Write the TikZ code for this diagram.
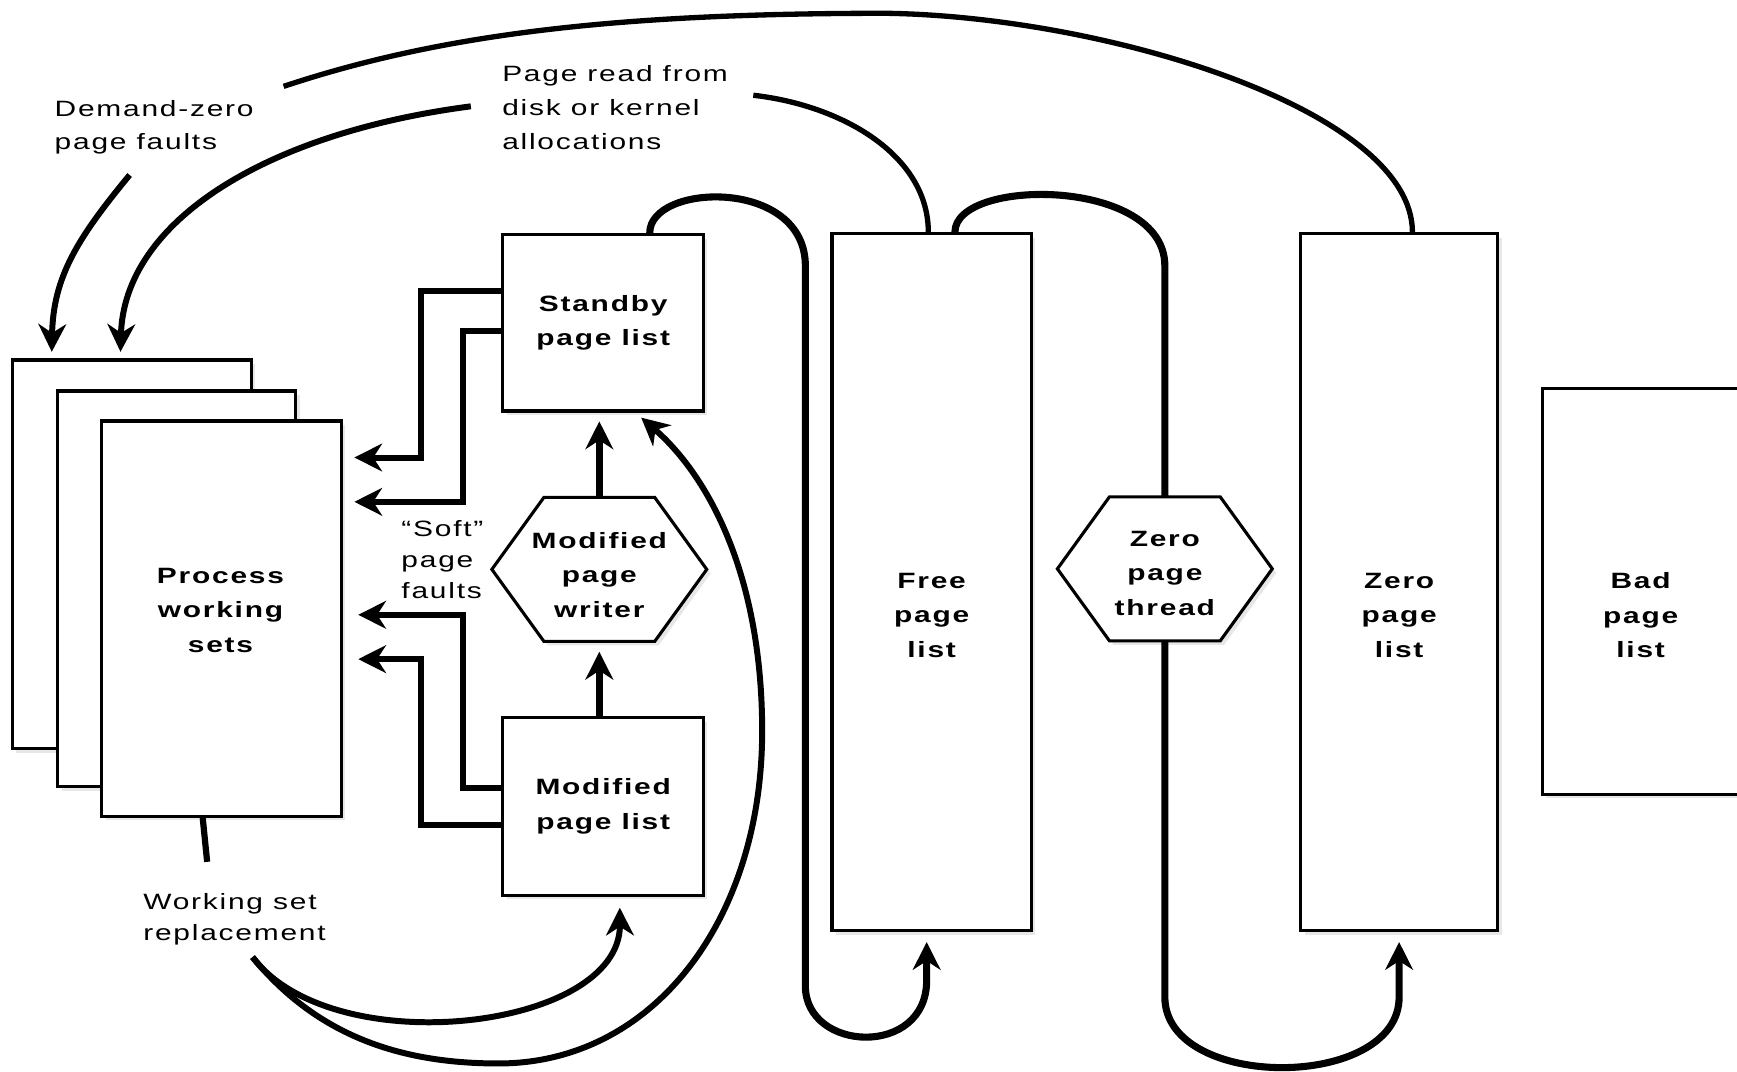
\documentclass[tikz,border=0pt]{standalone}
\usepackage{fontspec}
\setmainfont{Liberation Sans}[FakeStretch=1.35, LetterSpace=8]
\usetikzlibrary{arrows.meta,shadows}

\tikzset{
  listbox/.style={draw, line width=1.4pt, fill=white, inner sep=0pt,
    drop shadow={shadow xshift=1.8pt, shadow yshift=-1.8pt, fill=black!18}},
  hexline/.style={draw, line width=1.4pt, fill=white,
    drop shadow={shadow xshift=1.8pt, shadow yshift=-1.8pt, fill=black!18}},
  hexnode/.style={draw=none, inner sep=0pt, minimum width=97pt, minimum height=65pt},
  lbl/.style={align=center, inner sep=0pt, font=\fontsize{10}{15.5}\selectfont\bfseries},
  note/.style={align=left, inner sep=0pt, anchor=west, font=\fontsize{10}{14.5}\selectfont},
  flow/.style={line width=2.7pt, ->},
  vflow/.style={line width=3.1pt, ->},
  arcline/.style={line width=2.4pt},
  loopline/.style={line width=3.2pt},
  tick/.style={line width=2.8pt},
}

\begin{document}
\begin{tikzpicture}[x=0.5pt, y=-0.5pt,
  >={Stealth[length=12.5pt,width=12.5pt,inset=4pt]}]
\useasboundingbox (0,0) rectangle (1568,967);
\fill[white] (0,0) rectangle (1568,967);
\clip (0,0) rectangle (1568,967);

% stacked process working sets
\node[listbox, minimum width=108pt, minimum height=175.5pt] (ws1) at (119,500.5) {};
\node[listbox, minimum width=107.5pt, minimum height=178.5pt] (ws2) at (159.5,531.5) {};
\node[listbox, minimum width=108pt, minimum height=178.5pt] (ws3) at (200,558.5) {};
\node[lbl] (wstext) at (199,551) {Process\\working\\sets};

% page lists
\node[listbox, lbl, minimum width=90.5pt, minimum height=79.5pt] (standby) at (544.5,291.5) {Standby\\page list};
\node[listbox, lbl, minimum width=90.5pt, minimum height=80pt] (modlist) at (544.5,728) {Modified\\page list};
\node[listbox, minimum width=90pt, minimum height=314.5pt] (free) at (841,525.5) {};
\node[lbl] (freetext) at (841,555.5) {Free\\page\\list};
\node[listbox, minimum width=89pt, minimum height=314.5pt] (zero) at (1263,525.5) {};
\node[lbl] (zerotext) at (1263,555.5) {Zero\\page\\list};
\node[listbox, minimum width=90pt, minimum height=183pt] (bad) at (1482,534) {};
\node[lbl] (badtext) at (1481,555.5) {Bad\\page\\list};

% hexagonal worker threads
\draw[hexline] (541,514) ++(-97,0) -- ++(47,-65) -- ++(100,0) -- ++(47,65) -- ++(-47,65) -- ++(-100,0) -- cycle;
\node[hexnode] (mpw) at (541,514) {};
\node[lbl] (mpwtext) at (541,519) {Modified\\page\\writer};
\draw[hexline] (1051.5,513.5) ++(-97,0) -- ++(47,-65) -- ++(100,0) -- ++(47,65) -- ++(-47,65) -- ++(-100,0) -- cycle;
\node[hexnode] (zpt) at (1051.5,513.5) {};
\node[lbl] (zpttext) at (1051.5,517.5) {Zero\\page\\thread};

% free-standing labels
\node[note, font=\fontsize{10}{15}\selectfont] (dzlabel) at (49,115) {Demand-zero\\page faults};
\node[note, font=\fontsize{10}{15.5}\selectfont] (prlabel) at (453,97) {Page read from\\disk or kernel\\allocations};
\node[note, font=\fontsize{10}{14}\selectfont] (softlabel) at (362,505) {“Soft”\\page\\faults};
\node[note, font=\fontsize{10}{14}\selectfont] (wsrlabel) at (129,830) {Working set\\replacement};

% loose ends of the connectors next to the labels
\coordinate (dzend) at (256,78);
\coordinate (dzstart) at (117,158);
\coordinate (prend) at (680,86);
\coordinate (prstart) at (425,96);
\coordinate (wsrtail) at (187,778);
\coordinate (wsrstart) at (228,864);

% elbow bends
\coordinate (e1) at (380,413);
\coordinate (e2) at (418,453);
\coordinate (e3) at (418,555);
\coordinate (e4) at (380,595);

% zero page list -> demand-zero faults -> working sets
\draw[arcline] ([xshift=6pt]zero.north) .. controls (1275,100) and (1000,15) .. (800,12)
  .. controls (560,12) and (400,30) .. (dzend);
\draw[flow, shorten >=3pt] (dzstart) .. controls (70,215) and (48,250) .. ([xshift=18.5pt]ws1.north west);

% free page list -> page reads -> working sets
\draw[arcline] ([xshift=-1.5pt]free.north) .. controls (838,140) and (760,95) .. (prend);
\draw[flow, shorten >=3pt] (prstart) .. controls (240,120) and (112,200) .. ([xshift=49.5pt]ws1.north west);

% soft faults back into the working sets
\draw[flow, shorten >=5.25pt] ([yshift=14.5pt]standby.west) -| (e1) -- (ws3.east |- e1);
\draw[flow, shorten >=5.25pt] ([yshift=-3.75pt]standby.west) -| (e2) -- (ws3.east |- e2);
\draw[flow, shorten >=7pt] ([yshift=8.5pt]modlist.west) -| (e3) -- (ws3.east |- e3);
\draw[flow, shorten >=7pt] ([yshift=-8.5pt]modlist.west) -| (e4) -- (ws3.east |- e4);

% modified page writer
\draw[vflow, shorten >=4.5pt] (mpw.south |- modlist.north) -- (mpw.south);
\draw[vflow, shorten >=4pt] (mpw.north) -- (mpw.north |- standby.south);

% standby -> free page list
\draw[loopline, ->, shorten >=4.5pt] ([xshift=21pt]standby.north) .. controls (586,165) and (727,160) .. (727,240)
  -- (727,890) .. controls (727,950) and (836.5,955) .. (836.5,885) -- ([xshift=-2.25pt]free.south);

% free -> zero page thread -> zero page list
\draw[loopline] ([xshift=10.5pt]free.north) .. controls (862,160) and (1051.5,160) .. (1051.5,240) -- (zpt.north);
\draw[loopline, ->, shorten >=4.5pt] (zpt.south) -- (1051.5,900) .. controls (1051.5,985) and (1263,985) .. (1263,900) -- (zero.south);

% working set replacement
\draw[tick] ([xshift=-8.5pt]ws3.south) -- (wsrtail);
\draw[flow, shorten >=5pt] (wsrstart) .. controls (300,960) and (560,930) .. ([xshift=7.5pt]modlist.south);
\draw[flow, shorten >=3.5pt] (wsrstart) .. controls (290,940) and (370,960) .. (450,960)
  .. controls (590,960) and (688,830) .. (688,660)
  .. controls (688,520) and (640,430) .. ([xshift=14.5pt]standby.south);
\end{tikzpicture}
\end{document}
